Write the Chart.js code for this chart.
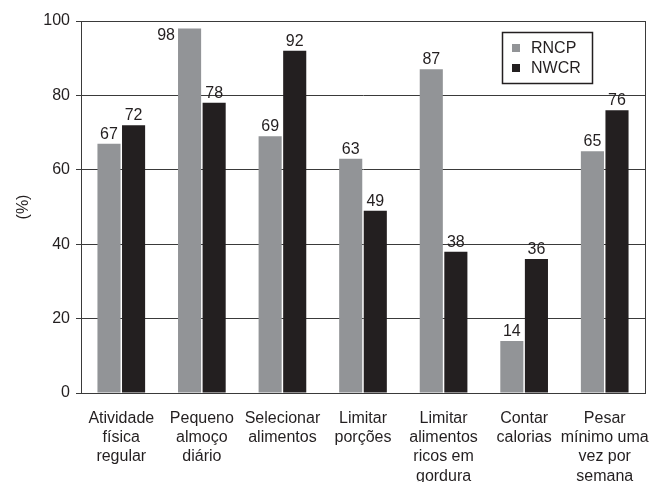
<!DOCTYPE html>
<html>
<head>
<meta charset="utf-8">
<script src="https://cdn.jsdelivr.net/npm/chart.js@4/dist/chart.umd.min.js"></script>
<style>
  html, body { margin: 0; padding: 0; background: #ffffff; }
  #wrap { width: 650px; height: 482px; overflow: hidden; }
</style>
</head>
<body>
<div id="wrap"><canvas id="c" width="650" height="482"></canvas></div>
<script>
// Behaviours, multi-line category labels
const categories = [
  ['Atividade', 'física', 'regular'],
  ['Pequeno', 'almoço', 'diário'],
  ['Selecionar', 'alimentos'],
  ['Limitar', 'porções'],
  ['Limitar', 'alimentos', 'ricos em', 'gordura'],
  ['Contar', 'calorias'],
  ['Pesar', 'mínimo uma', 'vez por', 'semana']
];
const seriesNames = ['RNCP', 'NWCR'];
const rncpValues = [67, 98, 69, 63, 87, 14, 65];
const nwcrValues = [72, 78, 92, 49, 38, 36, 76];
const yTicks = [0, 20, 40, 60, 80, 100];

const GREY = '#929497';
const DARK = '#231f20';
const LINE = '#3a3a3a';
const FONT = '"Liberation Sans", Arial, Helvetica, sans-serif';
const SIZE = 16;

// Frame around the plot area
const frame = {
  id: 'frame',
  afterDraw(chart) {
    const a = chart.chartArea, ctx = chart.ctx;
    ctx.save();
    ctx.strokeStyle = LINE;
    ctx.lineWidth = 1;
    ctx.strokeRect(Math.round(a.left) + 0.5, Math.round(a.top) + 0.5,
                   Math.round(a.right - a.left), Math.round(a.bottom - a.top));
    ctx.restore();
  }
};

// Value labels above each bar (moved beside the bar if it reaches the top)
const valueLabels = {
  id: 'valueLabels',
  afterDatasetsDraw(chart) {
    const ctx = chart.ctx, a = chart.chartArea;
    ctx.save();
    ctx.font = SIZE + 'px ' + FONT;
    ctx.fillStyle = DARK;
    chart.data.datasets.forEach((ds, di) => {
      chart.getDatasetMeta(di).data.forEach((bar, i) => {
        const txt = String(ds.data[i]);
        if (bar.y - 22 < a.top) {
          ctx.textAlign = 'right';
          ctx.textBaseline = 'middle';
          ctx.fillText(txt, bar.x - bar.width / 2 - 3, bar.y + 7);
        } else {
          ctx.textAlign = 'center';
          ctx.textBaseline = 'alphabetic';
          ctx.fillText(txt, bar.x, bar.y - 5);
        }
      });
    });
    ctx.restore();
  }
};

// Boxed legend in the upper right of the plot
const boxLegend = {
  id: 'boxLegend',
  afterDraw(chart) {
    const ctx = chart.ctx;
    const x = 502, y = 32, w = 90, h = 51;
    ctx.save();
    ctx.fillStyle = '#ffffff';
    ctx.fillRect(x, y, w, h);
    ctx.strokeStyle = DARK;
    ctx.lineWidth = 1.5;
    ctx.strokeRect(x + 0.5, y + 0.5, w, h);
    ctx.font = SIZE + 'px ' + FONT;
    ctx.textAlign = 'left';
    ctx.textBaseline = 'middle';
    chart.data.datasets.forEach((ds, i) => {
      const cy = y + 16 + i * 20;
      ctx.fillStyle = ds.backgroundColor;
      ctx.fillRect(x + 10, cy - 4, 8, 8);
      ctx.fillStyle = DARK;
      ctx.fillText(ds.label, x + 29, cy + 1);
    });
    ctx.restore();
  }
};

new Chart(document.getElementById('c'), {
  type: 'bar',
  data: {
    labels: categories,
    datasets: [
      { label: seriesNames[0], data: rncpValues, backgroundColor: GREY },
      { label: seriesNames[1], data: nwcrValues, backgroundColor: DARK }
    ]
  },
  options: {
    responsive: false,
    animation: false,
    devicePixelRatio: 1,
    layout: { padding: { top: 21, right: 5, left: 0, bottom: 0 } },
    datasets: { bar: { categoryPercentage: 0.61, barPercentage: 0.94 } },
    plugins: { legend: { display: false }, tooltip: { enabled: false } },
    scales: {
      x: {
        grid: { display: false, drawTicks: false },
        border: { display: true, color: LINE, width: 1 },
        ticks: {
          autoSkip: false, maxRotation: 0, minRotation: 0, padding: 16,
          color: DARK, font: { family: FONT, size: SIZE, lineHeight: 1.2 }
        },
        afterFit(scale) {
          scale.height = 89;
          scale.paddingLeft = 0;
          scale.paddingRight = 0;
        }
      },
      y: {
        min: 0, max: 100,
        afterBuildTicks(scale) { scale.ticks = yTicks.map(v => ({ value: v })); },
        grid: { color: LINE, lineWidth: 1, drawTicks: true, tickLength: 5 },
        border: { display: true, color: LINE, width: 1 },
        ticks: { color: DARK, padding: 6, font: { family: FONT, size: SIZE } },
        title: {
          display: true, text: '(%)', color: DARK,
          font: { family: FONT, size: SIZE }, padding: { top: 14, bottom: 0 }
        },
        afterFit(scale) { scale.width = 81; }
      }
    }
  },
  plugins: [frame, valueLabels, boxLegend]
});
</script>
</body>
</html>
